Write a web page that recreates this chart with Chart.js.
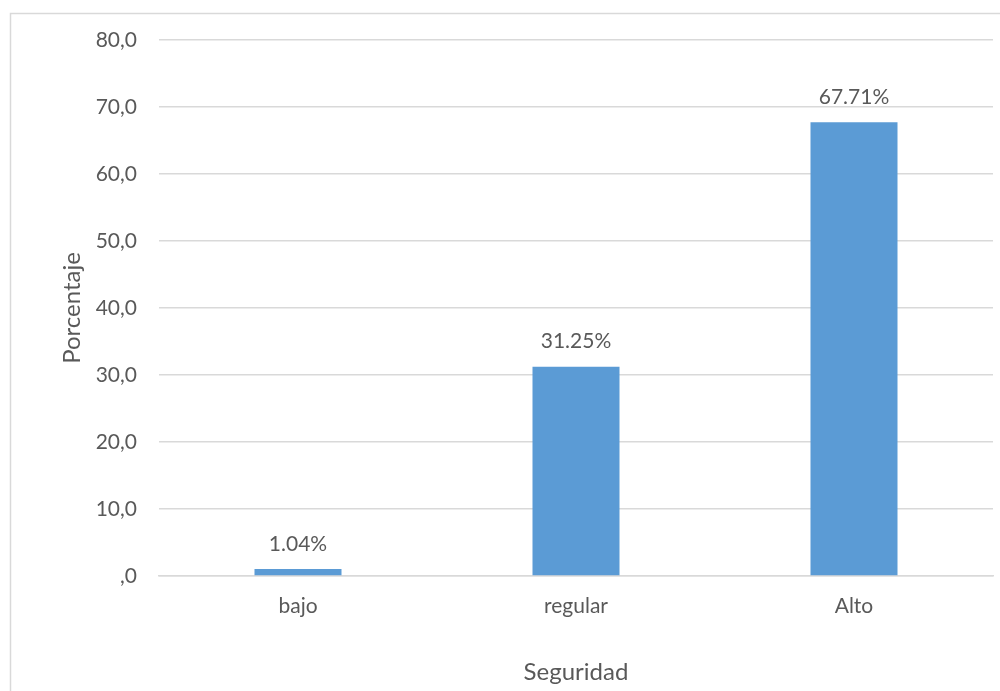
<!DOCTYPE html>
<html>
<head>
<meta charset="utf-8">
<script src="https://cdn.jsdelivr.net/npm/chart.js@4.4.0/dist/chart.umd.min.js"></script>
<style>
  html, body { margin: 0; padding: 0; background: #ffffff; }
  #wrap { position: relative; width: 1000px; height: 691px; }
</style>
</head>
<body>
<div id="wrap"><canvas id="c" width="1000" height="691"></canvas></div>
<script>
const categories = ['bajo', 'regular', 'Alto'];
const values = [1.04, 31.25, 67.71];
const yTickLabels = [',0', '10,0', '20,0', '30,0', '40,0', '50,0', '60,0', '70,0', '80,0'];
const xTitle = 'Seguridad';
const yTitle = 'Porcentaje';

const textColor = '#595959';
const gridColor = '#d9d9d9';
const fontFamily = "Lato, 'Noto Sans', sans-serif";

const frame = {
  id: 'frame',
  beforeDraw(chart) {
    const ctx = chart.ctx;
    ctx.save();
    ctx.fillStyle = '#ffffff';
    ctx.fillRect(0, 0, chart.width, chart.height);
    ctx.strokeStyle = gridColor;
    ctx.lineWidth = 1.5;
    ctx.strokeRect(10.5, 13.5, 1200, 1000);
    ctx.restore();
  }
};

const dataLabels = {
  id: 'dataLabels',
  afterDatasetsDraw(chart) {
    const ctx = chart.ctx;
    const meta = chart.getDatasetMeta(0);
    ctx.save();
    ctx.fillStyle = textColor;
    ctx.font = '21px ' + fontFamily;
    ctx.textAlign = 'center';
    ctx.textBaseline = 'middle';
    meta.data.forEach((bar, i) => {
      const v = chart.data.datasets[0].data[i];
      ctx.fillText(v.toFixed(2) + '%', bar.x, bar.y - 25);
    });
    ctx.restore();
  }
};

new Chart(document.getElementById('c'), {
  type: 'bar',
  data: {
    labels: categories,
    datasets: [{
      data: values,
      backgroundColor: '#5b9bd5',
      borderWidth: 0,
      categoryPercentage: 1.0,
      barPercentage: 0.313
    }]
  },
  options: {
    responsive: false,
    animation: false,
    devicePixelRatio: 1,
    layout: { padding: { left: 58, right: 7, top: 40, bottom: 0 } },
    plugins: {
      legend: { display: false },
      tooltip: { enabled: false }
    },
    scales: {
      x: {
        grid: { display: false, drawTicks: false },
        border: { display: true, color: gridColor, width: 1.5 },
        ticks: { color: textColor, font: { family: fontFamily, size: 21 }, padding: 18 },
        title: {
          display: true, text: xTitle, color: textColor,
          font: { family: fontFamily, size: 24 },
          padding: { top: 0, bottom: 4 }
        },
        afterFit(scale) { scale.height = 115; }
      },
      y: {
        min: 0, max: 80,
        grid: { color: gridColor, lineWidth: 1.5, drawTicks: false },
        border: { display: false },
        ticks: {
          stepSize: 10,
          color: textColor,
          font: { family: fontFamily, size: 21 },
          padding: 22,
          callback: (v, i) => yTickLabels[i]
        },
        title: {
          display: true, text: yTitle, color: textColor,
          font: { family: fontFamily, size: 24 },
          padding: { top: 0, bottom: 0 }
        },
        afterFit(scale) { scale.width = 101; }
      }
    }
  },
  plugins: [frame, dataLabels]
});
</script>
</body>
</html>
